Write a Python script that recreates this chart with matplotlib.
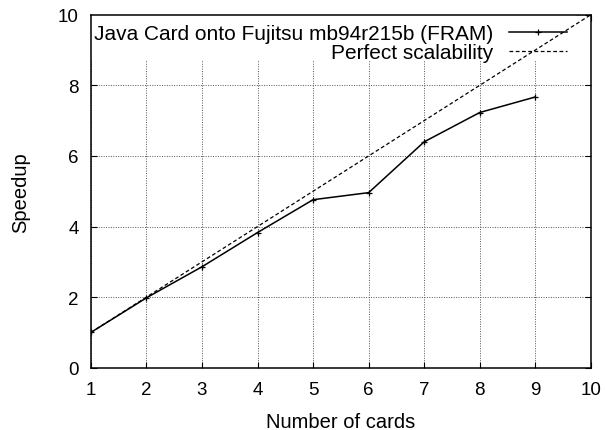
import matplotlib
matplotlib.use("Agg")
import matplotlib.pyplot as plt
from matplotlib.patches import Rectangle

plt.rcParams['font.family'] = ['Liberation Sans', 'DejaVu Sans']
plt.rcParams['font.size'] = 13.5

## Measured speedup per number of cards
cards = [1, 2, 3, 4, 5, 6, 7, 8, 9]
speedup = [1.0, 1.98, 2.86, 3.83, 4.76, 4.96, 6.40, 7.23, 7.67]

## Ideal line
ideal_x = [1, 10]
ideal_y = [1, 10]

fig = plt.figure(figsize=(6.06, 4.31), dpi=100)
ax = fig.add_axes([0.150, 0.1445, 0.825, 0.819])

ax.plot(cards, speedup, color="black", lw=1.1, marker="+", ms=5, mew=0.9,
        label="Java Card onto Fujitsu mb94r215b (FRAM)", zorder=3)
ax.plot(ideal_x, ideal_y, color="black", lw=0.9, ls=(0, (3, 2)),
        label="Perfect scalability", zorder=3)

ax.set_xlim(1, 10)
ax.set_ylim(0, 10)
ax.set_xticks(range(1, 11))
ax.set_yticks(range(0, 11, 2))
ax.set_xlabel("Number of cards", fontsize=14.5, labelpad=10)
ax.set_ylabel("Speedup", fontsize=14.5, labelpad=20)

ax.grid(True, color="#555555", ls=(0, (1, 1.5)), lw=0.7, zorder=0)
ax.set_axisbelow(True)
ax.tick_params(direction="in", top=True, right=True, length=4, width=0.8)
ax.tick_params(axis="x", pad=9.5)
ax.tick_params(axis="y", pad=8.6)
for s in ax.spines.values():
    s.set_linewidth(1.1)

# white box behind the key (gnuplot style)
ax.add_patch(Rectangle((0.0, 0.868), 0.97, 0.132, transform=ax.transAxes,
                       facecolor="white", edgecolor="none", zorder=1))

ax.legend(loc="upper right", bbox_to_anchor=(0.952, 0.973), frameon=False,
          markerfirst=False, handlelength=2.8, handletextpad=0.72,
          labelspacing=0.0, borderpad=0, borderaxespad=0, fontsize=15)

fig.savefig("out.png", dpi=100)
